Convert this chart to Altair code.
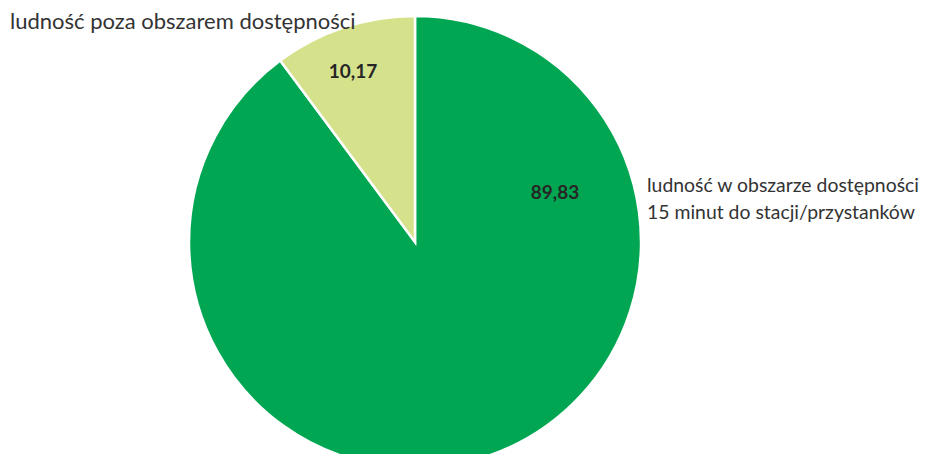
import altair as alt
import pandas as pd

categories = ["ludność w obszarze dostępności 15 minut do stacji/przystanków",
              "ludność poza obszarem dostępności"]
values = [89.83, 10.17]
value_labels = ["89,83", "10,17"]
colors = ["#00A651", "#D5E28B"]

df = pd.DataFrame({"kategoria": categories, "wartosc": values,
                   "etykieta": value_labels, "kolejnosc": [0, 1]})

W, H = 916, 446
CX, CY, R = 407, 234, 226
FONT = "Lato"

pie = alt.Chart(df).mark_arc(radius=R, stroke="white", strokeWidth=2.5).encode(
    theta=alt.Theta("wartosc:Q", stack=True),
    order=alt.Order("kolejnosc:Q"),
    color=alt.Color("kategoria:N", scale=alt.Scale(domain=categories, range=colors), legend=None),
    x=alt.value(CX), y=alt.value(CY),
)

def txt(row, x, y):
    return alt.Chart(df.iloc[[row]]).mark_text(
        font=FONT, fontSize=19, fontWeight="bold",
        color="#262626", align="center", baseline="middle",
    ).encode(x=alt.value(x), y=alt.value(y), text="etykieta:N")

lbl_small = txt(1, 345, 64)
lbl_big = txt(0, 547, 185)

cat_top = alt.Chart(df.iloc[[1]]).mark_text(
    font=FONT, fontSize=22, color="#333333", align="left", baseline="middle"
).encode(x=alt.value(2), y=alt.value(14), text="kategoria:N")

right_lines = ["ludność w obszarze dostępności", "15 minut do stacji/przystanków"]
cat_right = alt.Chart(pd.DataFrame({"t": [right_lines]})).mark_text(
    font=FONT, fontSize=19.4, color="#333333", align="left", baseline="middle", lineHeight=27
).encode(x=alt.value(639), y=alt.value(178), text="t")

chart = alt.layer(pie, lbl_small, lbl_big, cat_top, cat_right).properties(
    width=W, height=H, autosize=alt.AutoSizeParams(type="none"), padding=0
).configure_view(stroke=None)

chart.save("out.html", embed_options={"renderer": "svg", "actions": False})
